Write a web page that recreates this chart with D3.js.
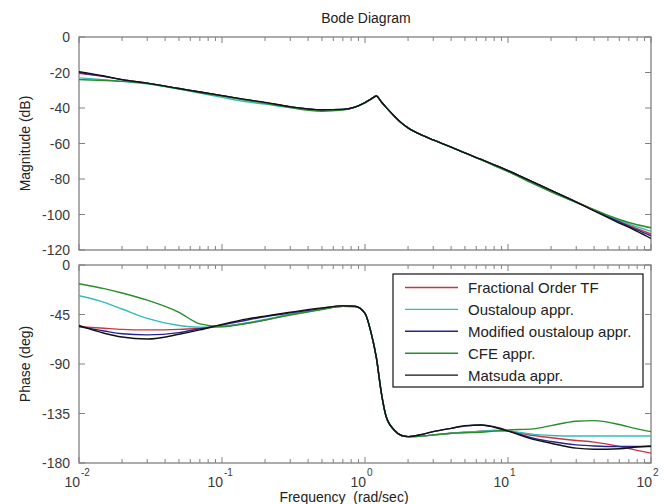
<!DOCTYPE html>
<html>
<head>
<meta charset="utf-8">
<script src="https://cdnjs.cloudflare.com/ajax/libs/d3/7.8.5/d3.min.js"></script>
<style>
  html, body { margin: 0; padding: 0; background: #fff; }
  svg { display: block; font-family: "Liberation Sans", Arial, sans-serif; }
</style>
</head>
<body>
<svg id="chart" width="668" height="504"></svg>
<script>
// ---------- DATA ----------
const freq = [0.01, 0.015, 0.02, 0.03, 0.05, 0.07, 0.1, 0.15, 0.2, 0.3, 0.5, 0.7, 0.85, 1.0, 1.1, 1.2, 1.3, 1.4, 1.6, 1.8, 2.0, 2.5, 3, 4, 5, 6.5, 8, 10, 15, 20, 30, 40, 60, 80, 100];

const seriesNames = ["Fractional Order TF", "Oustaloup appr.", "Modified oustaloup appr.", "CFE appr.", "Matsuda appr."];
const seriesColors = ["#cc3344", "#33bbbb", "#26268c", "#2a8c2a", "#111111"];

// magnitude (dB)
const magFractional = [-20.5, -22.3, -24, -26, -29, -31, -33, -35.5, -37, -39.4, -41, -40.8, -39.5, -37, -35, -33.2, -36.5, -39.5, -44.5, -48.5, -51.2, -55.3, -58, -62, -65.3, -69, -72, -75.3, -81.8, -86.4, -92.9, -97.5, -103.8, -108, -111];
const magOustaloup  = [-23, -24, -25, -26.3, -29.3, -31.6, -34, -36.5, -37.8, -39.8, -41.2, -40.8, -39.5, -37, -35, -33.2, -36.5, -39.5, -44.5, -48.5, -51.2, -55.3, -58, -62, -65.3, -69.2, -72.4, -75.8, -82.4, -87, -93.2, -97.5, -103.3, -107, -109.5];
const magModified   = [-20, -22.2, -24, -26, -29, -31, -33, -35.5, -37, -39.4, -41, -40.8, -39.5, -37, -35, -33.2, -36.5, -39.5, -44.5, -48.5, -51.2, -55.3, -58, -62, -65.3, -69, -72, -75.3, -81.8, -86.4, -92.9, -97.7, -104.2, -108.7, -112];
const magCFE        = [-24, -24.5, -25, -26.2, -29.2, -31.3, -33.3, -35.7, -37.3, -39.8, -41.8, -41.2, -39.6, -37, -35, -33.2, -36.5, -39.5, -44.5, -48.5, -51.2, -55.3, -58, -62, -65.3, -69.2, -72.4, -75.8, -82.6, -87.2, -93.2, -97.3, -102.8, -105.8, -107.5];
const magMatsuda    = [-19.5, -22, -24, -26, -29, -31, -33, -35.3, -36.8, -39.3, -41, -40.8, -39.5, -37, -35, -33.2, -36.5, -39.5, -44.5, -48.5, -51.2, -55.3, -58, -62, -65.3, -69, -72, -75.3, -81.8, -86.4, -93, -98, -104.8, -109.5, -113.5];

// phase (deg)
const phFractional = [-56, -57.5, -58.5, -59, -58.5, -57.5, -56, -53, -50, -45, -40, -37.5, -37.8, -44, -61, -84, -116, -137, -150, -155, -156, -155.5, -154.5, -153, -152, -151, -150.5, -151, -155, -157, -159.5, -161, -165, -168.5, -171];
const phOustaloup  = [-28, -34, -40, -48.5, -55, -56.5, -56, -52.5, -49.5, -45, -40, -37.5, -37.8, -44, -61, -84, -116, -137, -150, -155, -156, -155.5, -154.5, -153, -152, -151, -150.5, -151, -154, -155, -155.5, -155.5, -155.5, -155.5, -155.5];
const phModified   = [-56, -60, -62.5, -63.5, -61.5, -58, -54.5, -50, -47, -43.5, -39.5, -37, -37.5, -44, -61, -84, -116, -137, -150, -155, -156, -154, -151.5, -148.5, -146.5, -145.5, -147, -150.5, -157.5, -160.5, -163.5, -164.5, -165, -165, -165];
const phCFE        = [-17, -21.5, -25.5, -32, -43, -53.5, -56, -53, -50, -45.5, -40.5, -37.5, -37.8, -44, -61, -84, -116, -137, -150, -155, -156, -155.5, -154.5, -153, -152.5, -152, -151, -150, -149, -146, -142, -141.5, -145, -149, -151.5];
const phMatsuda    = [-55, -62, -65.5, -67.3, -63, -59, -54, -49, -46.5, -43, -39, -37.2, -37.5, -44, -61, -84, -116, -137, -150, -155, -156, -154, -151.5, -148.5, -146, -145.5, -147.5, -151, -158.5, -162, -166.5, -167.5, -167, -165.5, -164.5];

const magTicks = [0, -20, -40, -60, -80, -100, -120];
const phaseTicks = [0, -45, -90, -135, -180];
const decadeTicks = [0.01, 0.1, 1, 10, 100];
const decadeExps = ["-2", "-1", "0", "1", "2"];

const titleText = "Bode Diagram";
const magLabel = "Magnitude (dB)";
const phaseLabel = "Phase (deg)";
const xLabel = "Frequency  (rad/sec)";

// ---------- LAYOUT ----------
const svg = d3.select("#chart");
const axisColor = "#808080";
const textColor = "#3a3a3a";

const xLeft = 79, xRight = 651;
const x = d3.scaleLog().domain([0.01, 100]).range([xLeft, xRight]);
const yMag = d3.scaleLinear().domain([-120, 0]).range([250, 37]);
const yPh = d3.scaleLinear().domain([-180, 0]).range([463, 265]);

const magSeries = [magFractional, magOustaloup, magModified, magCFE, magMatsuda];
const phSeries = [phFractional, phOustaloup, phModified, phCFE, phMatsuda];

// minor ticks
const minorTicks = [];
for (let e = -2; e < 2; e++) for (let m = 2; m <= 9; m++) minorTicks.push(m * Math.pow(10, e));

function drawPanel(y, ticks, vals) {
  const g = svg.append("g");
  const [yb, yt] = y.range();
  g.append("rect").attr("x", xLeft).attr("y", yt).attr("width", xRight - xLeft).attr("height", yb - yt)
    .attr("fill", "#fff").attr("stroke", axisColor).attr("stroke-width", 1.3);
  decadeTicks.forEach(t => {
    g.append("line").attr("x1", x(t)).attr("x2", x(t)).attr("y1", yb).attr("y2", yb - 6).attr("stroke", axisColor);
    g.append("line").attr("x1", x(t)).attr("x2", x(t)).attr("y1", yt).attr("y2", yt + 6).attr("stroke", axisColor);
  });
  minorTicks.forEach(t => {
    g.append("line").attr("x1", x(t)).attr("x2", x(t)).attr("y1", yb).attr("y2", yb - 4).attr("stroke", axisColor);
    g.append("line").attr("x1", x(t)).attr("x2", x(t)).attr("y1", yt).attr("y2", yt + 4).attr("stroke", axisColor);
  });
  ticks.forEach(t => {
    g.append("line").attr("x1", xLeft).attr("x2", xLeft + 6).attr("y1", y(t)).attr("y2", y(t)).attr("stroke", axisColor);
    g.append("line").attr("x1", xRight).attr("x2", xRight - 6).attr("y1", y(t)).attr("y2", y(t)).attr("stroke", axisColor);
    g.append("text").attr("x", 70).attr("y", y(t)).attr("dy", "0.36em").attr("text-anchor", "end")
      .attr("font-size", 14).attr("fill", textColor).text(t);
  });
  const clipId = "clip" + Math.round(yt);
  svg.append("clipPath").attr("id", clipId).append("rect")
    .attr("x", xLeft).attr("y", yt).attr("width", xRight - xLeft).attr("height", yb - yt);
  const line = d3.line().x((d, i) => x(freq[i])).y(d => y(d)).curve(d3.curveMonotoneX);
  vals.forEach((arr, k) => {
    g.append("path").attr("d", line(arr)).attr("fill", "none")
      .attr("stroke", seriesColors[k]).attr("stroke-width", 1.4)
      .attr("clip-path", `url(#${clipId})`);
  });
  return g;
}

drawPanel(yMag, magTicks, magSeries);
drawPanel(yPh, phaseTicks, phSeries);

// x tick labels (bottom panel only)
decadeTicks.forEach((t, i) => {
  svg.append("text").attr("x", x(t) + 1).attr("y", 487).attr("text-anchor", "end")
    .attr("font-size", 14).attr("fill", textColor).text("10");
  svg.append("text").attr("x", x(t) + 2).attr("y", 476)
    .attr("font-size", 10).attr("fill", textColor).text(decadeExps[i]);
});

// title & axis labels
svg.append("text").attr("x", 366).attr("y", 23).attr("text-anchor", "middle")
  .attr("font-size", 14).attr("fill", "#222").text(titleText);
svg.append("text").attr("transform", `translate(30,${(37 + 250) / 2}) rotate(-90)`)
  .attr("text-anchor", "middle").attr("font-size", 14).attr("fill", "#222").text(magLabel);
svg.append("text").attr("transform", `translate(30,${(265 + 463) / 2}) rotate(-90)`)
  .attr("text-anchor", "middle").attr("font-size", 14).attr("fill", "#222").text(phaseLabel);
svg.append("text").attr("x", 344).attr("y", 502).attr("text-anchor", "middle")
  .style("white-space", "pre").attr("font-size", 14).attr("fill", "#222").text(xLabel);

// legend
const lg = svg.append("g");
lg.append("rect").attr("x", 393).attr("y", 274).attr("width", 250).attr("height", 113)
  .attr("fill", "#fff").attr("stroke", "#111").attr("stroke-width", 1.2);
seriesNames.forEach((name, k) => {
  const yy = 287.5 + k * 21.9;
  lg.append("line").attr("x1", 405).attr("x2", 458).attr("y1", yy).attr("y2", yy)
    .attr("stroke", seriesColors[k]).attr("stroke-width", 1.4);
  lg.append("text").attr("x", 468).attr("y", yy).attr("dy", "0.36em")
    .attr("font-size", 15).attr("fill", "#222").text(name);
});
</script>
</body>
</html>
